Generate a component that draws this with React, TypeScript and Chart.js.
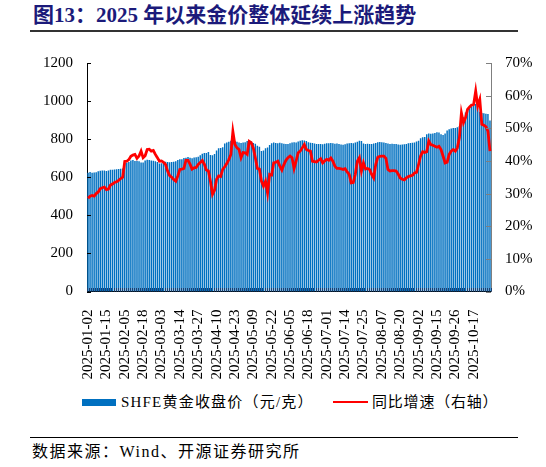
import { useEffect, useRef } from "react";
import { Chart, registerables } from "chart.js";

Chart.register(...registerables);

const dates = [
  "2025-01-02","2025-01-03","2025-01-06","2025-01-07","2025-01-08","2025-01-09","2025-01-10","2025-01-13","2025-01-14","2025-01-15",
  "2025-01-16","2025-01-17","2025-01-20","2025-01-21","2025-01-22","2025-01-23","2025-01-24","2025-01-27","2025-02-05","2025-02-06",
  "2025-02-07","2025-02-10","2025-02-11","2025-02-12","2025-02-13","2025-02-14","2025-02-17","2025-02-18","2025-02-19","2025-02-20",
  "2025-02-21","2025-02-24","2025-02-25","2025-02-26","2025-02-27","2025-02-28","2025-03-03","2025-03-04","2025-03-05","2025-03-06",
  "2025-03-07","2025-03-10","2025-03-11","2025-03-12","2025-03-13","2025-03-14","2025-03-17","2025-03-18","2025-03-19","2025-03-20",
  "2025-03-21","2025-03-24","2025-03-25","2025-03-26","2025-03-27","2025-03-28","2025-03-31","2025-04-01","2025-04-02","2025-04-03",
  "2025-04-07","2025-04-08","2025-04-09","2025-04-10","2025-04-11","2025-04-14","2025-04-15","2025-04-16","2025-04-17","2025-04-18",
  "2025-04-21","2025-04-22","2025-04-23","2025-04-24","2025-04-25","2025-04-28","2025-04-29","2025-04-30","2025-05-06","2025-05-07",
  "2025-05-08","2025-05-09","2025-05-12","2025-05-13","2025-05-14","2025-05-15","2025-05-16","2025-05-19","2025-05-20","2025-05-21",
  "2025-05-22","2025-05-23","2025-05-26","2025-05-27","2025-05-28","2025-05-29","2025-05-30","2025-06-03","2025-06-04","2025-06-05",
  "2025-06-06","2025-06-09","2025-06-10","2025-06-11","2025-06-12","2025-06-13","2025-06-16","2025-06-17","2025-06-18","2025-06-19",
  "2025-06-20","2025-06-23","2025-06-24","2025-06-25","2025-06-26","2025-06-27","2025-06-30","2025-07-01","2025-07-02","2025-07-03",
  "2025-07-04","2025-07-07","2025-07-08","2025-07-09","2025-07-10","2025-07-11","2025-07-14","2025-07-15","2025-07-16","2025-07-17",
  "2025-07-18","2025-07-21","2025-07-22","2025-07-23","2025-07-24","2025-07-25","2025-07-28","2025-07-29","2025-07-30","2025-07-31",
  "2025-08-01","2025-08-04","2025-08-05","2025-08-06","2025-08-07","2025-08-08","2025-08-11","2025-08-12","2025-08-13","2025-08-14",
  "2025-08-15","2025-08-18","2025-08-19","2025-08-20","2025-08-21","2025-08-22","2025-08-25","2025-08-26","2025-08-27","2025-08-28",
  "2025-08-29","2025-09-01","2025-09-02","2025-09-03","2025-09-04","2025-09-05","2025-09-08","2025-09-09","2025-09-10","2025-09-11",
  "2025-09-12","2025-09-15","2025-09-16","2025-09-17","2025-09-18","2025-09-19","2025-09-22","2025-09-23","2025-09-24","2025-09-25",
  "2025-09-26","2025-09-29","2025-09-30","2025-10-09","2025-10-10","2025-10-13","2025-10-14","2025-10-15","2025-10-16","2025-10-17",
  "2025-10-20","2025-10-21","2025-10-22","2025-10-23","2025-10-24","2025-10-27","2025-10-28","2025-10-29"
];

// SHFE 黄金收盘价（元/克）
const goldPrice = [
  623, 627, 624, 625, 626, 632, 634, 635, 636, 633,
  635, 640, 639, 641, 642, 643, 645, 646, 672, 676,
  680, 688, 690, 685, 687, 684, 677, 678, 688, 692,
  690, 688, 686, 684, 680, 672, 674, 680, 681, 680,
  679, 680, 681, 684, 690, 694, 695, 701, 703, 706,
  702, 700, 704, 705, 708, 716, 724, 728, 728, 733,
  717, 715, 722, 740, 752, 753, 758, 777, 782, 786,
  792, 797, 790, 787, 783, 780, 782, 784, 790, 794,
  788, 780, 776, 765, 760, 738, 740, 752, 756, 770,
  778, 782, 780, 779, 781, 778, 776, 774, 775, 778,
  782, 784, 783, 788, 792, 794, 793, 790, 784, 781,
  780, 777, 775, 774, 774, 773, 776, 778, 779, 780,
  778, 776, 777, 775, 772, 771, 773, 777, 779, 780,
  778, 782, 787, 792, 790, 777, 775, 776, 774, 775,
  777, 780, 784, 785, 784, 783, 780, 777, 775, 776,
  775, 774, 772, 771, 772, 773, 774, 778, 780, 781,
  782, 788, 792, 805, 810, 812, 826, 830, 828, 830,
  832, 836, 835, 826, 822, 830, 846, 852, 856, 858,
  858, 862, 868, 905, 915, 940, 950, 962, 972, 978,
  985, 962, 944, 938, 936, 934, 932, 898
];

// 同比增速（%，右轴）
const yoyGrowth = [
  28.6, 29.2, 29.4, 29.2, 30.0, 30.5, 31.5, 31.8, 32.0, 31.2,
  31.4, 32.6, 32.9, 33.4, 33.6, 34.0, 34.6, 35.0, 39.8, 39.9,
  40.4, 41.4, 41.8, 42.0, 40.8, 41.5, 43.0, 41.0, 41.6, 43.5,
  43.6, 43.0, 43.2, 42.0, 41.0, 39.9, 40.0, 39.6, 38.9, 36.9,
  35.5, 35.0, 34.3, 33.8, 35.4, 37.4, 37.5, 37.7, 40.2, 40.2,
  39.0, 37.5, 37.9, 38.0, 38.9, 39.5, 40.1, 39.0, 37.2, 36.9,
  33.8, 29.8, 31.0, 34.4, 35.4, 35.2, 37.4, 38.2, 39.2, 40.4,
  42.0, 49.0, 45.0, 44.0, 43.5, 41.0, 42.6, 42.5, 42.0, 46.0,
  45.6, 44.0, 41.0, 37.7, 37.5, 33.8, 32.3, 33.8, 30.2, 35.9,
  35.7, 39.4, 39.6, 39.9, 38.4, 37.2, 38.9, 40.2, 41.0, 41.5,
  41.0, 37.7, 40.0, 42.5, 43.0, 44.0, 45.0, 43.5, 43.2, 43.0,
  39.9, 39.8, 39.7, 40.2, 40.7, 39.4, 40.0, 40.5, 40.2, 40.9,
  39.9, 38.4, 37.7, 37.7, 37.6, 37.4, 37.6, 36.6, 35.9, 33.3,
  33.4, 35.9, 39.9, 41.0, 36.9, 39.4, 37.5, 37.7, 37.4, 35.9,
  34.8, 38.9, 41.1, 41.4, 41.5, 41.5, 40.8, 37.4, 36.9, 37.0,
  37.0, 36.9, 36.0, 34.8, 34.4, 34.2, 34.8, 35.2, 35.4, 35.6,
  36.3, 36.5, 38.9, 41.5, 42.8, 42.6, 42.8, 46.1, 45.0, 44.8,
  44.5, 44.2, 44.5, 43.5, 41.5, 39.4, 39.6, 42.0, 43.0, 43.5,
  43.0, 44.0, 47.1, 54.7, 51.7, 53.2, 55.8, 56.5, 57.1, 57.3,
  61.4, 56.8, 58.8, 51.2, 50.9, 50.5, 49.1, 43.0
];

const labelEvery = 9;
const leftAxis = { min: 0, max: 1200, step: 200 };
const rightAxis = { min: 0, max: 70, step: 10 };

const barLabel = "SHFE黄金收盘价（元/克）";
const lineLabel = "同比增速（右轴）";
const titleText = "图13：2025 年以来金价整体延续上涨趋势";
const sourceText = "数据来源：Wind、开源证券研究所";

const SERIF = '"Liberation Serif", "Times New Roman", "Noto Sans CJK SC", serif';
const BAR_COLOR = "#0070C0";
const LINE_COLOR = "#FF0000";

// Inward tick marks on the axes (drawn from the scales themselves)
const innerTicks = {
  id: "innerTicks",
  afterDatasetsDraw(chart: any) {
    const ctx = chart.ctx;
    const area = chart.chartArea;
    const xs = chart.scales.x;
    const ys = chart.scales.y;
    const y1s = chart.scales.y1;
    ctx.save();
    ctx.lineWidth = 1;
    ctx.strokeStyle = "#1F3F6F";
    ctx.beginPath();
    for (let i = 0; i <= dates.length; i++) {
      const px = Math.round(xs.getPixelForValue(i - 0.5)) + 0.5;
      ctx.moveTo(px, area.bottom - 3.5);
      ctx.lineTo(px, area.bottom);
    }
    ctx.stroke();
    ctx.strokeStyle = "#000000";
    ctx.beginPath();
    for (let v = leftAxis.min; v <= leftAxis.max; v += leftAxis.step) {
      const py = Math.round(ys.getPixelForValue(v)) + 0.5;
      ctx.moveTo(area.left, py);
      ctx.lineTo(area.left + 4, py);
    }
    ctx.stroke();
    ctx.strokeStyle = "#7F7F7F";
    ctx.beginPath();
    for (let v = rightAxis.min; v <= rightAxis.max; v += rightAxis.step) {
      const py = Math.round(y1s.getPixelForValue(v)) + 0.5;
      ctx.moveTo(area.right - 5, py);
      ctx.lineTo(area.right, py);
    }
    ctx.stroke();
    ctx.restore();
  },
};

export default function App() {
  const ref = useRef<HTMLCanvasElement>(null);

  useEffect(() => {
    if (!ref.current) return;
    const chart = new Chart(ref.current, {
      type: "bar",
      data: {
        labels: dates,
        datasets: [
          {
            type: "line",
            label: lineLabel,
            data: yoyGrowth,
            yAxisID: "y1",
            borderColor: LINE_COLOR,
            backgroundColor: LINE_COLOR,
            borderWidth: 2.8,
            pointRadius: 0,
            tension: 0,
            order: 1,
          } as any,
          {
            type: "bar",
            label: barLabel,
            data: goldPrice,
            yAxisID: "y",
            backgroundColor: BAR_COLOR,
            barPercentage: 0.72,
            categoryPercentage: 1.0,
            order: 2,
          } as any,
        ],
      },
      options: {
        animation: false,
        responsive: false,
        maintainAspectRatio: false,
        layout: { padding: { top: 21, left: 0, right: 0, bottom: 0 } },
        plugins: {
          legend: { display: false },
          tooltip: { enabled: false },
        },
        scales: {
          x: {
            type: "category",
            offset: true,
            grid: { display: false, drawOnChartArea: false, drawTicks: false },
            border: { display: true, color: "#000000", width: 1 },
            ticks: {
              autoSkip: false,
              maxRotation: 90,
              minRotation: 90,
              padding: 18,
              color: "#000000",
              font: { family: SERIF, size: 15 },
              callback: (_v: any, i: number) => (i % labelEvery === 0 ? dates[i] : ""),
            },
            afterFit: (s: any) => {
              s.height = 98.5;
            },
          },
          y: {
            position: "left",
            min: leftAxis.min,
            max: leftAxis.max,
            grid: { display: false, drawOnChartArea: false, drawTicks: false },
            border: { display: true, color: "#000000", width: 1 },
            ticks: {
              stepSize: leftAxis.step,
              padding: 14,
              color: "#000000",
              font: { family: SERIF, size: 15 },
              callback: (v: any) => String(v),
            },
            afterFit: (s: any) => {
              s.width = 87;
            },
          },
          y1: {
            position: "right",
            min: rightAxis.min,
            max: rightAxis.max,
            grid: { display: false, drawOnChartArea: false, drawTicks: false },
            border: { display: true, color: "#7F7F7F", width: 1 },
            ticks: {
              stepSize: rightAxis.step,
              padding: 14,
              color: "#000000",
              font: { family: SERIF, size: 15 },
              callback: (v: any) => `${v}%`,
            },
            afterFit: (s: any) => {
              s.width = 55;
            },
          },
        },
      },
      plugins: [innerTicks],
    });
    return () => chart.destroy();
  }, []);

  return (
    <div
      style={{
        position: "absolute",
        left: 0,
        top: 0,
        width: 546,
        height: 467,
        background: "#ffffff",
        fontFamily: SERIF,
        overflow: "hidden",
      }}
    >
      <div
        style={{
          position: "absolute",
          left: 33,
          top: 3,
          height: 24,
          lineHeight: "24px",
          fontSize: 21,
          fontWeight: "bold",
          color: "#1B1A7A",
          whiteSpace: "nowrap",
        }}
      >
        {titleText}
      </div>
      <div style={{ position: "absolute", left: 30, top: 30, width: 488, height: 1.5, background: "#333333" }} />

      <canvas
        ref={ref}
        width={546}
        height={350}
        style={{ position: "absolute", left: 0, top: 40, width: 546, height: 350 }}
      />

      <div style={{ position: "absolute", left: 82, top: 399, width: 34, height: 7, background: BAR_COLOR }} />
      <div
        style={{
          position: "absolute",
          left: 121,
          top: 392,
          height: 20,
          lineHeight: "20px",
          fontSize: 15,
          letterSpacing: 1.2,
          color: "#000",
          whiteSpace: "nowrap",
        }}
      >
        {barLabel}
      </div>
      <div style={{ position: "absolute", left: 333, top: 400.5, width: 35, height: 2.6, background: LINE_COLOR }} />
      <div
        style={{
          position: "absolute",
          left: 372,
          top: 392,
          height: 20,
          lineHeight: "20px",
          fontSize: 15,
          letterSpacing: 0.8,
          color: "#000",
          whiteSpace: "nowrap",
        }}
      >
        {lineLabel}
      </div>

      <div style={{ position: "absolute", left: 30, top: 436.5, width: 488, height: 1.5, background: "#000000" }} />
      <div
        style={{
          position: "absolute",
          left: 32,
          top: 441,
          height: 22,
          lineHeight: "22px",
          fontSize: 16,
          letterSpacing: 1.5,
          color: "#000",
          whiteSpace: "nowrap",
        }}
      >
        {sourceText}
      </div>
    </div>
  );
}
